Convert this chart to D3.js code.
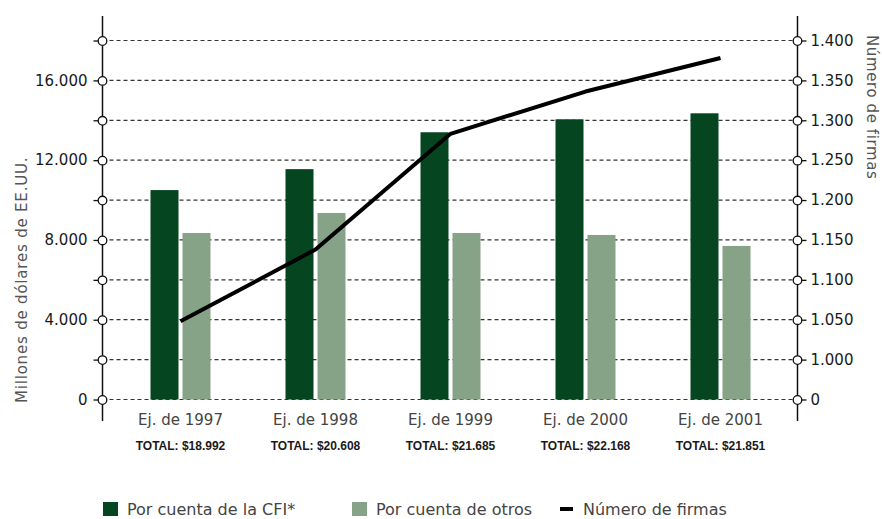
<!DOCTYPE html>
<html>
<head>
<meta charset="utf-8">
<script src="https://cdn.jsdelivr.net/npm/d3@7"></script>
<style>
  html, body { margin: 0; padding: 0; background: #fff; }
  svg { display: block; }
</style>
</head>
<body>
<svg id="chart" width="882" height="519"></svg>
<script>
// Fiscal years and the two financing series (millions of US dollars)
const years = ["Ej. de 1997", "Ej. de 1998", "Ej. de 1999", "Ej. de 2000", "Ej. de 2001"];
const cfiValues = [10500, 11550, 13400, 14050, 14350];
const otherValues = [8350, 9350, 8350, 8250, 7700];
// Number of firms (right axis)
const firmCounts = [1048, 1138, 1283, 1336, 1378];
// Totals printed below each year
const totals = [18992, 20608, 21685, 22168, 21851];
// Tick values
const leftTicks = [0, 2000, 4000, 6000, 8000, 10000, 12000, 14000, 16000, 18000];
const leftLabelled = [0, 4000, 8000, 12000, 16000];
const rightTicks = [0, 1000, 1050, 1100, 1150, 1200, 1250, 1300, 1350, 1400];

const colors = { cfi: "#054621", other: "#87a387", line: "#000" };

const locale = d3.formatLocale({ decimal: ",", thousands: ".", grouping: [3], currency: ["$", ""] });
const fmtInt = locale.format(",d");

const svg = d3.select("#chart");

const xLeft = 102.5, xRight = 797.5;
const y = d3.scaleLinear().domain([0, 18000]).range([399.5, 40.5]);
// Right axis: broken scale, 0 at the bottom then 1.000–1.400
const yFirms = d3.scaleLinear().domain([0, 1000, 1400]).range([y(0), y(2000), y(18000)]);

const x0 = d3.scaleBand().domain(years).range([113, 788]).padding(0);
const x1 = d3.scaleBand().domain(["cfi", "other"]).range([x0.bandwidth() / 2 - 30, x0.bandwidth() / 2 + 30]).paddingInner(0.125);

// Dashed gridlines
svg.append("g").selectAll("line").data(leftTicks).join("line")
  .attr("x1", xLeft).attr("x2", xRight)
  .attr("y1", d => y(d)).attr("y2", d => y(d))
  .attr("stroke", "#333").attr("stroke-width", 1.2)
  .attr("stroke-dasharray", "4,3");

// Bars
const groups = svg.append("g").selectAll("g").data(years).join("g")
  .attr("transform", d => `translate(${x0(d)},0)`);
groups.append("rect")
  .attr("x", x1("cfi")).attr("width", x1.bandwidth())
  .attr("y", (d, i) => y(cfiValues[i])).attr("height", (d, i) => y(0) - y(cfiValues[i]))
  .attr("fill", colors.cfi);
groups.append("rect")
  .attr("x", x1("other")).attr("width", x1.bandwidth())
  .attr("y", (d, i) => y(otherValues[i])).attr("height", (d, i) => y(0) - y(otherValues[i]))
  .attr("fill", colors.other);

// Firms line
const line = d3.line()
  .x((d, i) => x0(years[i]) + x0.bandwidth() / 2)
  .y(d => yFirms(d));
svg.append("path").datum(firmCounts)
  .attr("d", line)
  .attr("fill", "none").attr("stroke", colors.line).attr("stroke-width", 4)
  .attr("stroke-linejoin", "round");

// Axes
const leftAxis = d3.axisLeft(y).tickValues(leftTicks).tickSize(9).tickPadding(6)
  .tickFormat(d => leftLabelled.includes(d) ? fmtInt(d) : "");
const gL = svg.append("g").attr("transform", `translate(${xLeft},0)`).call(leftAxis);
const rightAxis = d3.axisRight(yFirms).tickValues(rightTicks).tickSize(9).tickPadding(4)
  .tickFormat(d => fmtInt(d));
const gR = svg.append("g").attr("transform", `translate(${xRight},0)`).call(rightAxis);

[gL, gR].forEach(g => {
  g.select(".domain").remove();
  g.insert("line", ":first-child")
    .attr("x1", 0).attr("x2", 0).attr("y1", 16).attr("y2", 421)
    .attr("stroke", "#111").attr("stroke-width", 1.5);
  g.selectAll(".tick line").attr("stroke", "#111").attr("stroke-width", 1.3);
  g.selectAll(".tick").append("circle")
    .attr("r", 4.3).attr("fill", "#fff").attr("stroke", "#111").attr("stroke-width", 1.3);
  g.selectAll(".tick text")
    .attr("font-family", "DejaVu Sans, sans-serif").attr("font-size", 15)
    .attr("fill", "#1a1a1a");
});

// Axis titles
svg.append("text")
  .attr("transform", "translate(27,403) rotate(-90)")
  .attr("font-family", "DejaVu Sans, sans-serif").attr("font-size", 15)
  .attr("letter-spacing", 0.8)
  .attr("fill", "#555").text("Millones de dólares de EE.UU.");
svg.append("text")
  .attr("transform", "translate(866.5,35) rotate(90)")
  .attr("font-family", "DejaVu Sans, sans-serif").attr("font-size", 15)
  .attr("letter-spacing", 0.6)
  .attr("fill", "#555").text("Número de firmas");

// Category labels and totals
const cat = svg.append("g").selectAll("g").data(years).join("g")
  .attr("transform", d => `translate(${x0(d) + x0.bandwidth() / 2},0)`);
cat.append("text").attr("y", 424.5).attr("text-anchor", "middle")
  .attr("font-family", "DejaVu Sans, sans-serif").attr("font-size", 15)
  .attr("fill", "#444").text(d => d);
cat.append("text").attr("y", 450).attr("text-anchor", "middle")
  .attr("font-family", "Liberation Sans, Arial, sans-serif").attr("font-size", 12)
  .attr("font-weight", "bold").attr("fill", "#1a1a1a")
  .text((d, i) => "TOTAL: $" + fmtInt(totals[i]));

// Legend
const legendItems = [
  { label: "Por cuenta de la CFI*", type: "rect", color: colors.cfi, x: 103 },
  { label: "Por cuenta de otros", type: "rect", color: colors.other, x: 352 },
  { label: "Número de firmas", type: "line", color: colors.line, x: 560 }
];
const lg = svg.append("g").selectAll("g").data(legendItems).join("g")
  .attr("transform", d => `translate(${d.x},0)`);
lg.filter(d => d.type === "rect").append("rect")
  .attr("x", 0).attr("y", 502).attr("width", 15).attr("height", 14)
  .attr("fill", d => d.color);
lg.filter(d => d.type === "line").append("line")
  .attr("x1", 0).attr("x2", 13).attr("y1", 509).attr("y2", 509)
  .attr("stroke", d => d.color).attr("stroke-width", 4);
lg.append("text")
  .attr("x", d => d.type === "rect" ? 24 : 23).attr("y", 515)
  .attr("font-family", "DejaVu Sans, sans-serif").attr("font-size", 16)
  .attr("fill", "#444").text(d => d.label);
</script>
</body>
</html>
